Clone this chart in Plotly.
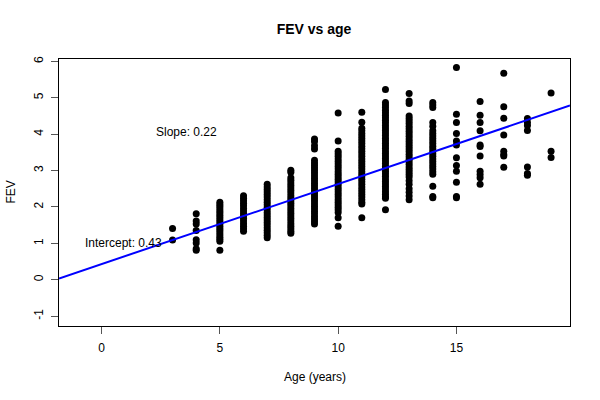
import numpy as np
import plotly.graph_objects as go

# FEV readings per age
fev_3 = [1.41, 1.09]
fev_4 = [1.81, 1.61, 1.53, 1.35, 1.10, 1.01, 0.85, 0.81]
fev_5 = [2.13, 2.07, 2.01, 1.95, 1.89, 1.83, 1.77, 1.71, 1.65, 1.59, 1.53,
         1.47, 1.41, 1.35, 1.29, 1.23, 1.17, 1.11, 1.06, 0.81]
fev_6 = [2.31, 2.24, 2.17, 2.10, 2.03, 1.96, 1.89, 1.82, 1.75, 1.68, 1.61,
         1.54, 1.47, 1.40, 1.33]
fev_7 = [2.62, 2.55, 2.48, 2.41, 2.34, 2.27, 2.20, 2.13, 2.06, 1.99, 1.92,
         1.85, 1.78, 1.71, 1.64, 1.57, 1.50, 1.43, 1.36, 1.29, 1.22, 1.15]
fev_8 = [3.01, 2.95, 2.80, 2.73, 2.66, 2.59, 2.52, 2.45, 2.38, 2.31, 2.24,
         2.17, 2.10, 2.03, 1.96, 1.89, 1.82, 1.75, 1.68, 1.61, 1.54, 1.47,
         1.40, 1.33, 1.28]
fev_9 = [3.87, 3.80, 3.68, 3.59, 3.28, 3.21, 3.14, 3.07, 3.00, 2.93, 2.86,
         2.79, 2.72, 2.65, 2.58, 2.51, 2.44, 2.37, 2.30, 2.23, 2.16, 2.09,
         2.02, 1.95, 1.88, 1.81, 1.74, 1.67, 1.60, 1.53]
fev_10 = [4.58, 3.81, 3.53, 3.46, 3.39, 3.32, 3.25, 3.18, 3.11, 3.04, 2.97,
          2.90, 2.83, 2.76, 2.69, 2.62, 2.55, 2.48, 2.41, 2.34, 2.27, 2.20,
          2.13, 2.06, 1.99, 1.92, 1.85, 1.70, 1.47]
fev_11 = [4.60, 4.33, 4.16, 4.09, 4.02, 3.95, 3.88, 3.81, 3.74, 3.67, 3.60,
          3.53, 3.46, 3.39, 3.32, 3.25, 3.18, 3.11, 3.04, 2.97, 2.90, 2.83,
          2.76, 2.69, 2.62, 2.55, 2.48, 2.41, 2.34, 2.27, 2.20, 2.13, 2.08,
          1.70]
fev_12 = [5.23, 4.87, 4.80, 4.73, 4.66, 4.59, 4.52, 4.45, 4.38, 4.31, 4.24,
          4.17, 4.10, 4.03, 3.96, 3.89, 3.82, 3.75, 3.68, 3.61, 3.54, 3.47,
          3.40, 3.33, 3.26, 3.19, 3.12, 3.05, 2.98, 2.91, 2.84, 2.77, 2.70,
          2.63, 2.56, 2.49, 2.42, 2.35, 2.28, 2.24, 1.92]
fev_13 = [5.12, 4.91, 4.84, 4.50, 4.43, 4.36, 4.29, 4.22, 4.15, 4.08, 4.01,
          3.94, 3.87, 3.80, 3.73, 3.66, 3.59, 3.52, 3.45, 3.38, 3.31, 3.24,
          3.17, 3.10, 3.03, 2.96, 2.89, 2.82, 2.72, 2.62, 2.50, 2.40, 2.30,
          2.20]
fev_14 = [4.87, 4.80, 4.73, 4.32, 4.22, 4.09, 4.02, 3.95, 3.88, 3.81, 3.74,
          3.67, 3.60, 3.53, 3.46, 3.39, 3.32, 3.25, 3.18, 3.11, 3.04, 2.97,
          2.90, 2.57, 2.29, 2.25]
fev_15 = [5.83, 4.55, 4.32, 4.02, 3.81, 3.70, 3.35, 3.14, 2.98, 2.68, 2.29,
          2.25]
fev_16 = [4.90, 4.52, 4.32, 4.09, 3.70, 3.66, 3.40, 2.98, 2.89, 2.80, 2.62]
fev_17 = [5.67, 4.75, 4.44, 3.98, 3.53, 3.44, 3.40, 3.09]
fev_18 = [4.43, 4.32, 4.24, 4.10, 3.10, 2.92, 2.87]
fev_19 = [5.13, 3.53, 3.36]

fev_groups = [fev_3, fev_4, fev_5, fev_6, fev_7, fev_8, fev_9, fev_10,
              fev_11, fev_12, fev_13, fev_14, fev_15, fev_16, fev_17,
              fev_18, fev_19]
ages = list(range(3, 20))

x_ticks = [0, 5, 10, 15]
y_ticks = [-1, 0, 1, 2, 3, 4, 5, 6]

# regression shown on the chart
intercept = 0.43
slope = 0.22

x_vals = np.concatenate([[a] * len(g) for a, g in zip(ages, fev_groups)])
y_vals = np.concatenate(fev_groups)

x_range = [-1.8, 19.8]
y_range = [-1.272, 6.065]
line_x = np.array(x_range)
line_y = intercept + slope * line_x

font = "Liberation Sans, Arial, sans-serif"
W, H = 600, 400

fig = go.Figure()
fig.add_trace(go.Scatter(x=x_vals, y=y_vals, mode="markers",
                         marker=dict(color="black", size=7),
                         showlegend=False, hoverinfo="x+y"))
fig.add_trace(go.Scatter(x=line_x, y=line_y, mode="lines",
                         line=dict(color="#0000ff", width=2),
                         showlegend=False, hoverinfo="skip"))

fig.update_layout(
    width=W, height=H,
    margin=dict(l=59, r=30, t=59, b=74, autoexpand=False),
    paper_bgcolor="white", plot_bgcolor="white",
    font=dict(family=font, size=12, color="black"),
    title=dict(text="<b>FEV vs age</b>", x=314 / W, xanchor="center",
               y=1 - 29 / H, yanchor="middle",
               font=dict(size=14, color="black")),
)
fig.update_xaxes(range=x_range, tickvals=x_ticks,
                 ticktext=[str(t) for t in x_ticks], ticks="outside",
                 ticklen=7, tickcolor="#555", ticklabelstandoff=4,
                 showgrid=False, zeroline=False, automargin=False,
                 showline=True, mirror=True, linecolor="black", linewidth=1)
fig.update_yaxes(range=y_range, tickvals=y_ticks,
                 ticktext=[str(t) for t in y_ticks],
                 ticks="outside", ticklen=7, tickcolor="#555", tickangle=-90,
                 ticklabelstandoff=3,
                 showgrid=False, zeroline=False, automargin=False,
                 showline=True, mirror=True, linecolor="black", linewidth=1)

fig.add_annotation(text="Slope: 0.22", x=3.6, y=4.05, xref="x", yref="y",
                   showarrow=False, font=dict(size=12))
fig.add_annotation(text="Intercept: 0.43", x=0.93, y=1.0, xref="x", yref="y",
                   showarrow=False, font=dict(size=12))
fig.add_annotation(text="Age (years)", x=0.5, y=0, xref="paper", yref="paper",
                   yshift=-51, showarrow=False, yanchor="middle",
                   font=dict(size=12))
fig.add_annotation(text="FEV", x=0, y=0.5, xref="paper", yref="paper",
                   xshift=-49, showarrow=False, textangle=-90,
                   xanchor="center", font=dict(size=12))

# drop the page's default body margin so the 600x400 figure fills the window
fig.write_html("out.html", config={"displayModeBar": False},
               post_script="document.body.style.margin='0';")
